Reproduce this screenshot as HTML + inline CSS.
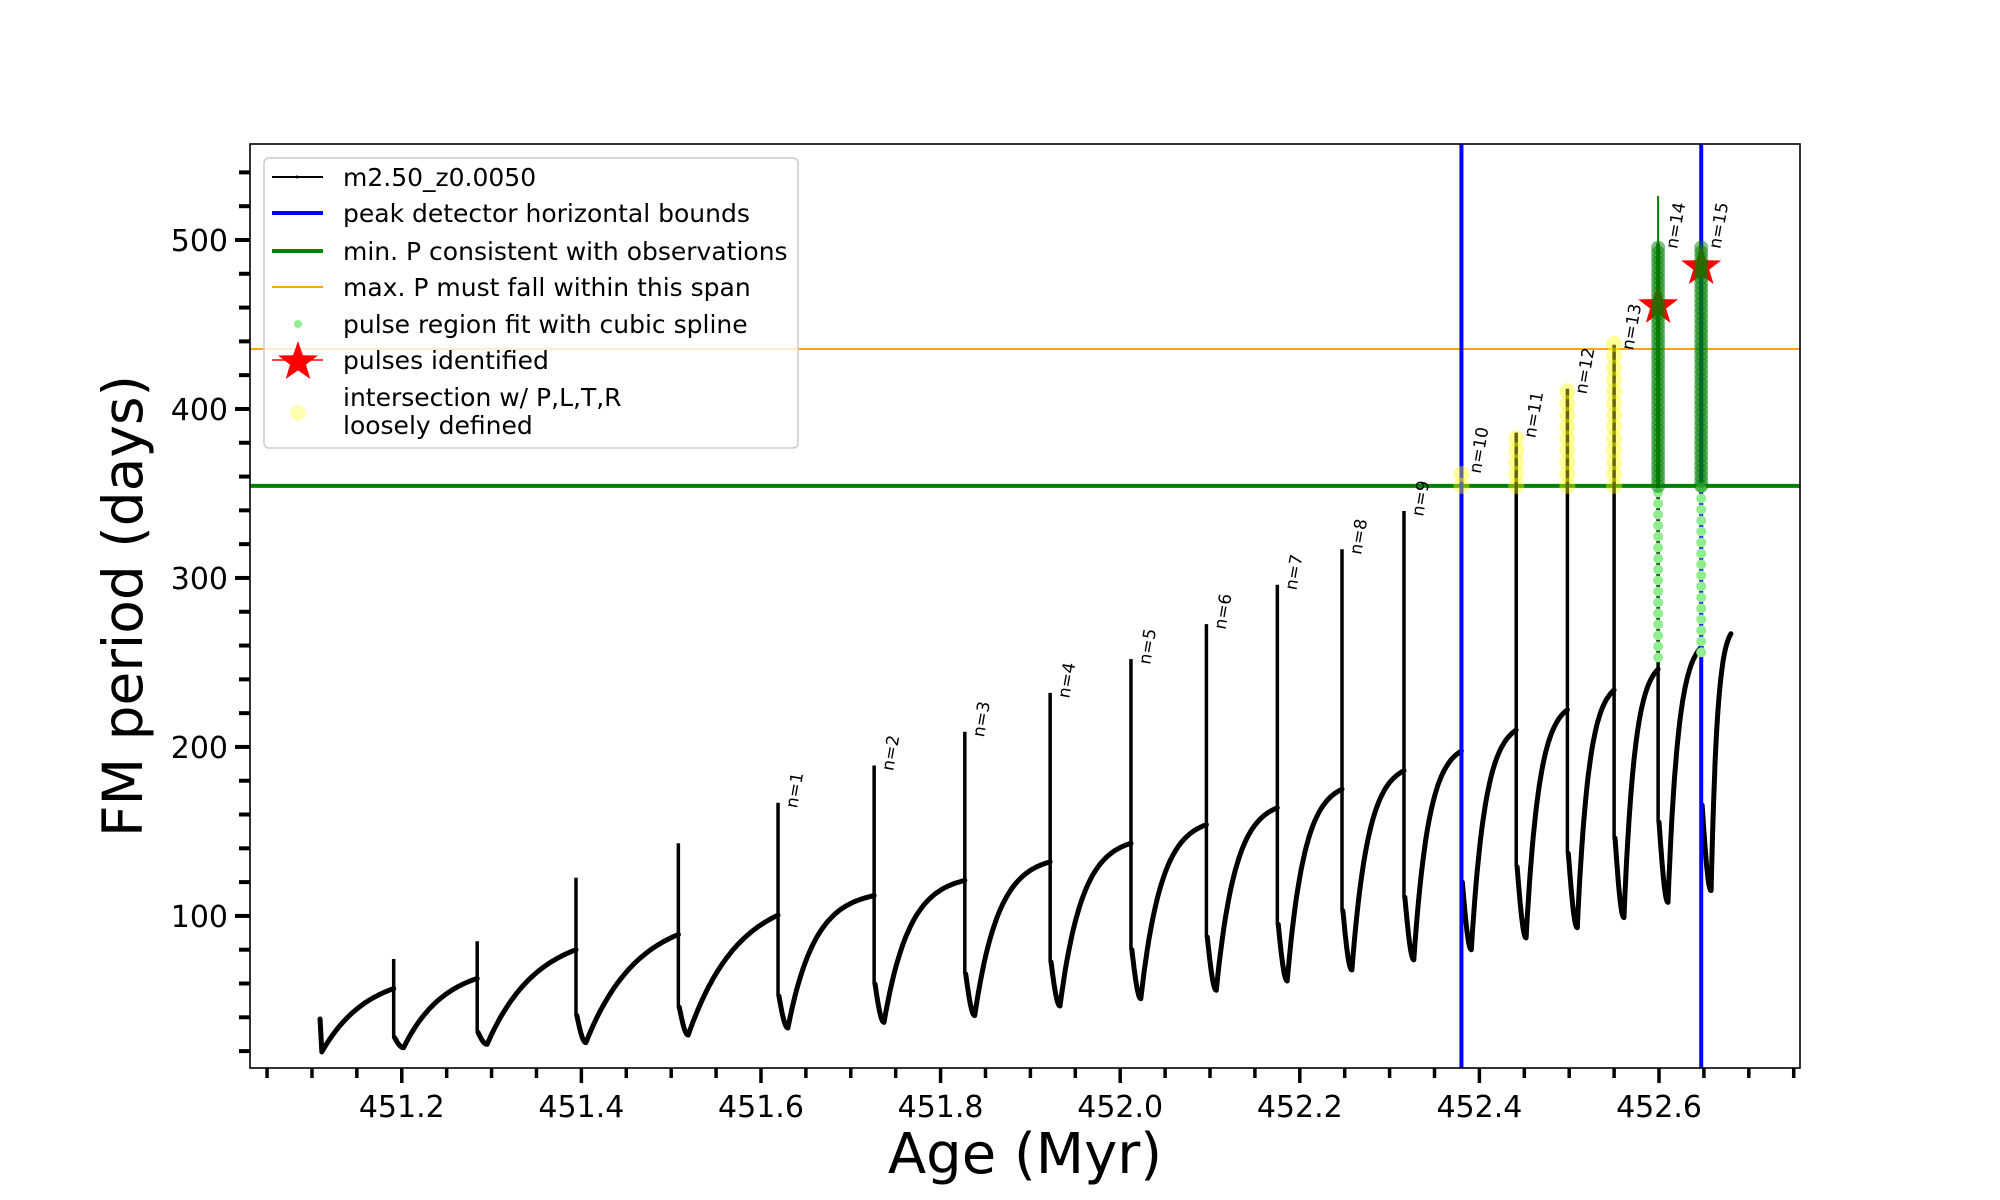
<!DOCTYPE html>
<html><head><meta charset="utf-8"><style>
html,body{margin:0;padding:0;background:#fff}
svg{display:block;font-family:"DejaVu Sans","Liberation Sans",sans-serif}
</style></head><body>
<svg id="chart" width="2000" height="1200" viewBox="0 0 2000 1200" xmlns="http://www.w3.org/2000/svg">
<rect width="2000" height="1200" fill="#fff"/>
<g id="plot"></g>
</svg>
<script>
const startAge = 451.109, startVal = 39, startMin = 19.5;
const endAge = 452.680, endVal = 267;
const pulseAges = [451.191,451.284,451.394,451.508,451.619,451.726,451.827,451.922,452.012,452.096,452.175,452.247,452.316,452.380,452.441,452.498,452.550,452.599,452.647];
const preVals   = [57,63,80,89,100.5,112,121,132,143,154,164,175,186,197.6,210,222,233.7,246,259];
const spikeVals = [74.5,85,122.6,143,167,189,209,232,252,272.7,296,317,339.6,365,386,412,438,498,498];
const postVals  = [28,31,41,46,52.6,59.7,65.6,72.7,80,87.5,95,103,111,120,129,137,146,155.5,165.6];
const minVals   = [22,24,25,29.5,33.7,37,41,46.7,51,56,61.5,68,74,80,87,93,99,108,115];
const pulseLabels = ["","","","","n=1","n=2","n=3","n=4","n=5","n=6","n=7","n=8","n=9","n=10","n=11","n=12","n=13","n=14","n=15"];
const boundAges = [452.380, 452.647];
const minP = 354.5, maxP = 435.5;
const yellowIdx = [13,14,15,16];
const greenIdx = [17,18];
const greenTop = [498,498];
const greenSpikeTop = 526;
const lightGreenBottom = [253,256];
const starAges = [452.599, 452.647];
const starVals = [461, 484];
const xTicks = [451.2,451.4,451.6,451.8,452.0,452.2,452.4,452.6];
const xTickLabels = ["451.2","451.4","451.6","451.8","452.0","452.2","452.4","452.6"];
const yTicks = [100,200,300,400,500];
const yTickLabels = ["100","200","300","400","500"];

const L=250,R=1800,T=144,B=1068, X0=451.031,X1=452.757,Y0=10,Y1=556.8;
const X=v=>L+(v-X0)/(X1-X0)*(R-L);
const Y=v=>B-(v-Y0)/(Y1-Y0)*(B-T);
const NS="http://www.w3.org/2000/svg";
const g=document.getElementById('plot');
function mk(tag,attrs,parent){const e=document.createElementNS(NS,tag);for(const k in attrs)e.setAttribute(k,attrs[k]);(parent||g).appendChild(e);return e;}

const defs=mk('defs',{});
const cp=mk('clipPath',{id:'clip'},defs);mk('rect',{x:L,y:T,width:R-L,height:B-T},cp);
const inner=mk('g',{'clip-path':'url(#clip)'});

let e=mk('line',{x1:L,x2:R,y1:Y(minP),y2:Y(minP),stroke:'#008000','stroke-width':4},inner);


e=mk('line',{x1:L,x2:R,y1:Y(maxP),y2:Y(maxP),stroke:'#ffa500','stroke-width':2},inner);



let d='M'+X(startAge)+','+Y(startVal)+' L'+X(startAge+0.002)+','+Y(startMin);
function rise(a0,v0,a1,v1,k){let s='';const n=40;for(let j=1;j<=n;j++){const f=j/n;const u=(1-Math.exp(-k*f))/(1-Math.exp(-k));s+=' L'+X(a0+(a1-a0)*f).toFixed(1)+','+Y(v0+(v1-v0)*u).toFixed(1);}return s;}
d+=rise(startAge+0.002,startMin,pulseAges[0],preVals[0],1.6);
let spikes='';
for(let i=0;i<pulseAges.length;i++){
  const a=pulseAges[i];
  spikes+='M'+X(a)+','+Y(preVals[i])+' L'+X(a)+','+Y(spikeVals[i])+' L'+X(a)+','+Y(postVals[i])+' ';
  d+=' M'+X(a+0.001)+','+Y(postVals[i]);
  const am=a+0.011;
  for(let j=1;j<=12;j++){const f=j/12;d+=' L'+X(a+0.001+(am-a-0.001)*f).toFixed(1)+','+Y(postVals[i]+(minVals[i]-postVals[i])*Math.sin(f*Math.PI/2)).toFixed(1);}
  const next=i+1<pulseAges.length?pulseAges[i+1]:endAge;
  const nv=i+1<preVals.length?preVals[i+1]:endVal;
  d+=rise(am,minVals[i],next,nv,i<4?1.8:3.2);
}
e=mk('path',{d:d,fill:'none',stroke:'#000','stroke-width':5,'stroke-linejoin':'round','stroke-linecap':'round'},inner);


e=mk('path',{d:spikes,fill:'none',stroke:'#000','stroke-width':3.5},inner);



boundAges.forEach((a,i)=>{const l=mk('line',{x1:X(a),x2:X(a),y1:T,y2:B,stroke:'#0000ff','stroke-width':4},inner);

});

yellowIdx.forEach(i=>{const a=pulseAges[i];for(let v=minP;v<=spikeVals[i]+1;v+=7){const c=mk('circle',{cx:X(a),cy:Y(v),r:8,fill:'#ffff00','fill-opacity':0.4},inner);

}});

greenIdx.forEach((i,k)=>{const a=pulseAges[i];
 for(let v=lightGreenBottom[k];v<minP;v+=6.5){const c=mk('circle',{cx:X(a),cy:Y(v),r:5,fill:'#90ee90'},inner);
 
 }
});
const gl=mk('line',{x1:X(pulseAges[17]),x2:X(pulseAges[17]),y1:Y(greenSpikeTop),y2:Y(minP),stroke:'#008000','stroke-width':2},inner);


function star(cx,cy,r){let p=[];for(let j=0;j<10;j++){const rr=j%2?r*0.4:r;const t=-Math.PI/2+j*Math.PI/5;p.push((cx+rr*Math.cos(t)).toFixed(1)+','+(cy+rr*Math.sin(t)).toFixed(1));}return p.join(' ');}
starAges.forEach((a,i)=>{const s=mk('polygon',{points:star(X(a),Y(starVals[i]),21),fill:'#ff0000'},inner);

});
greenIdx.forEach((i,k)=>{const a=pulseAges[i];
 for(let v=minP;v<=greenTop[k];v+=3){const c=mk('circle',{cx:X(a),cy:Y(v),r:7,fill:'#008000','fill-opacity':0.5},inner);
 
 }
});

pulseAges.forEach((a,i)=>{if(!pulseLabels[i])return;const top=i>=17?greenTop[i-17]:spikeVals[i];
 const x=X(a)+19,y=Y(top)+6;
 const t=mk('text',{x:x,y:y,transform:'rotate(-80 '+x+' '+y+')','font-size':17,fill:'#000'});t.textContent=pulseLabels[i];
 
 });

e=mk('rect',{x:L,y:T,width:R-L,height:B-T,fill:'none',stroke:'#000','stroke-width':1.6});



for(let v=451.05;v<452.76;v+=0.05){const x=X(v);const major=xTicks.some(t=>Math.abs(t-v)<1e-6);
 const tk=mk('line',{x1:x,x2:x,y1:B,y2:B+(major?15:10),stroke:'#000','stroke-width':3.5});
 
 }
xTicks.forEach((v,i)=>{const t=mk('text',{x:X(v),y:1117,'text-anchor':'middle','font-size':30,fill:'#000'});t.textContent=xTickLabels[i];
 
 });
for(let v=20;v<=540;v+=20){const y=Y(v);const major=yTicks.includes(v);
 const tk=mk('line',{x1:L-(major?15:11),x2:L,y1:y,y2:y,stroke:'#000','stroke-width':4});
 
 }
yTicks.forEach((v,i)=>{const t=mk('text',{x:228,y:Y(v)+11,'text-anchor':'end','font-size':30,fill:'#000'});t.textContent=yTickLabels[i];
 
 });

e=mk('text',{x:1025,y:1173,'text-anchor':'middle','font-size':56,fill:'#000'});e.textContent='Age (Myr)';


e=mk('text',{x:142,y:606,'text-anchor':'middle','font-size':55,fill:'#000',transform:'rotate(-90 142 606)'});e.textContent='FM period (days)';



const lg=mk('g',{});


mk('rect',{x:264,y:158,width:534,height:290,rx:5,fill:'#fff','fill-opacity':0.8,stroke:'#cccccc','stroke-width':1.5},lg);
const rows=[177,213,251,287,324,360];
const txt=['m2.50_z0.0050','peak detector horizontal bounds','min. P consistent with observations','max. P must fall within this span','pulse region fit with cubic spline','pulses identified'];
mk('line',{x1:272,x2:323,y1:177,y2:177,stroke:'#000','stroke-width':2},lg);mk('circle',{cx:297,cy:177,r:1.5,fill:'#000'},lg);
mk('line',{x1:272,x2:323,y1:213,y2:213,stroke:'#0000ff','stroke-width':4},lg);
mk('line',{x1:272,x2:323,y1:251,y2:251,stroke:'#008000','stroke-width':4},lg);
mk('line',{x1:272,x2:323,y1:287,y2:287,stroke:'#ffa500','stroke-width':2},lg);
mk('circle',{cx:298,cy:324,r:4,fill:'#90ee90'},lg);
mk('line',{x1:272,x2:323,y1:360,y2:360,stroke:'#ff0000','stroke-width':1.5},lg);
mk('polygon',{points:star(298,362,21),fill:'#ff0000'},lg);
mk('circle',{cx:298,cy:413,r:8,fill:'#ffff00','fill-opacity':0.3},lg);
rows.forEach((y,i)=>{const t=mk('text',{x:343,y:y+9,'font-size':25,fill:'#000'},lg);t.textContent=txt[i];
 
 });
let t=mk('text',{x:343,y:406,'font-size':25,fill:'#000'},lg);t.textContent='intersection w/ P,L,T,R';


t=mk('text',{x:343,y:434,'font-size':25,fill:'#000'},lg);t.textContent='loosely defined';


</script>
</body></html>
